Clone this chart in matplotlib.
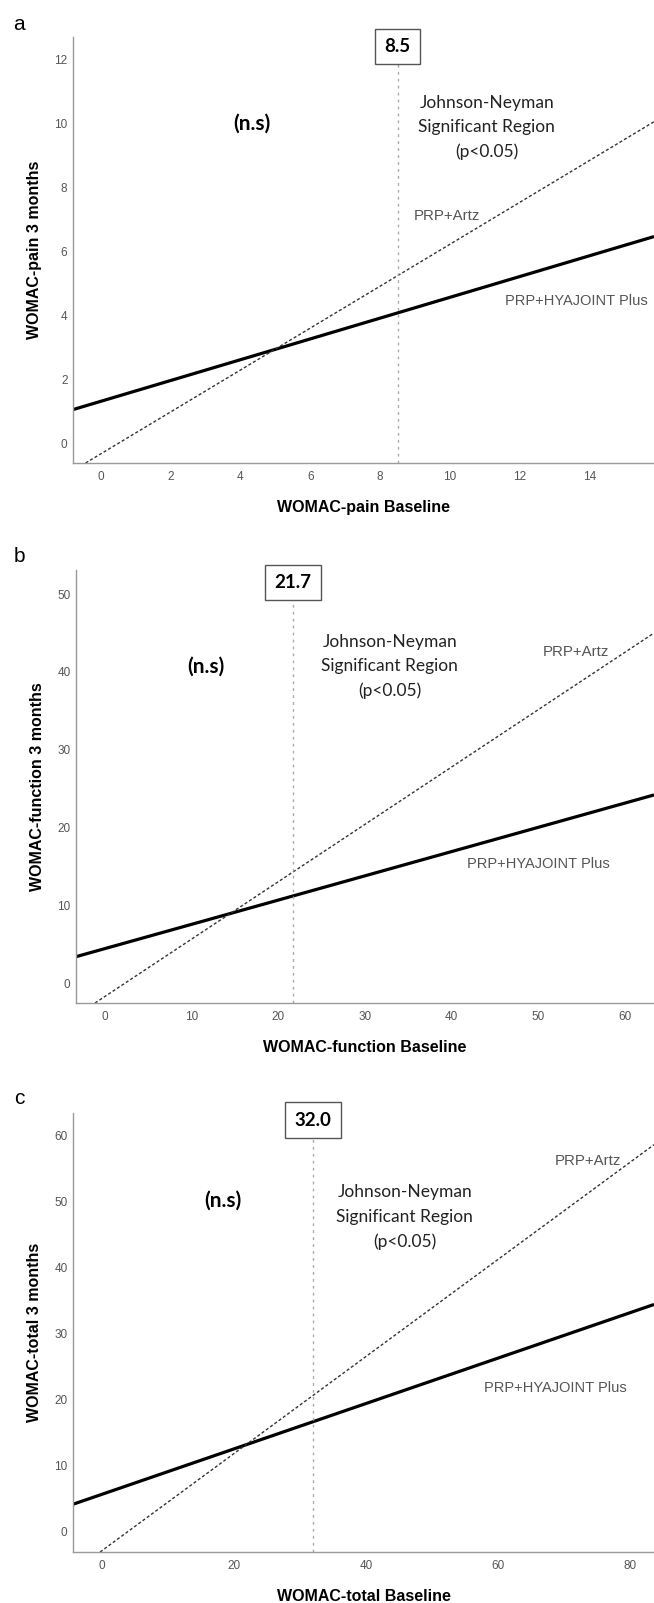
import matplotlib
matplotlib.use("Agg")
import matplotlib.pyplot as plt

# panel data (line end points at the axis edges)
panel_letters = ["a", "b", "c"]
x_labels = ["WOMAC-pain Baseline", "WOMAC-function Baseline", "WOMAC-total Baseline"]
y_labels = ["WOMAC-pain 3 months", "WOMAC-function 3 months", "WOMAC-total 3 months"]

x_limits = [(-0.8, 15.85), (-3.36, 63.4), (-4.3, 83.6)]
y_limits = [(-0.62, 12.7), (-2.53, 53.1), (-3.09, 63.4)]
x_ticks = [[0, 2, 4, 6, 8, 10, 12, 14], [0, 10, 20, 30, 40, 50, 60], [0, 20, 40, 60, 80]]
y_ticks = [[0, 2, 4, 6, 8, 10, 12], [0, 10, 20, 30, 40, 50], [0, 10, 20, 30, 40, 50, 60]]

hyajoint_x = [[-0.8, 15.85], [-3.36, 63.4], [-4.3, 83.6]]
hyajoint_y = [[1.05, 6.46], [3.42, 24.2], [4.14, 34.4]]
artz_x = [[-0.44, 15.85], [-1.16, 63.4], [-0.2, 83.6]]
artz_y = [[-0.62, 10.05], [-2.53, 45.0], [-3.09, 58.6]]

jn_points = [8.5, 21.7, 32.0]
jn_labels = ["8.5", "21.7", "32.0"]

# text anchors in data units
box_y = [12.4, 51.5, 62.3]
ns_pos = [(4.33, 10.0), (11.6, 40.7), (18.4, 50.1)]
jn_text_pos = [(11.06, 9.87), (32.9, 40.7), (45.9, 47.6)]
artz_label_pos = [(8.97, 7.1), (50.5, 42.6), (68.6, 56.2)]
hya_label_pos = [(11.57, 4.44), (41.8, 15.3), (57.9, 21.7)]

W, H = 654, 1603
fig = plt.figure(figsize=(W / 100, H / 100), dpi=100)

# axes boxes in pixels: left, top, right, bottom
boxes = [(73, 37, 654, 463), (76, 570, 654, 1003), (73, 1113, 654, 1552)]
letter_y = [25, 557, 1098]

tick_font = ["Liberation Sans", "DejaVu Sans"]
label_font = ["Liberation Sans", "DejaVu Sans"]
note_font = ["Lato", "DejaVu Sans"]

for i in range(3):
    l, t, r, b = boxes[i]
    ax = fig.add_axes([l / W, (H - b) / H, (r - l) / W, (b - t) / H])

    ax.plot(hyajoint_x[i], hyajoint_y[i], color="black", lw=2.3, solid_capstyle="butt")
    ax.plot(artz_x[i], artz_y[i], color="#333333", lw=1.0, linestyle=(0, (2.2, 1.6)))
    ax.axvline(jn_points[i], color="#aaaaaa", lw=1.0, linestyle=(0, (2, 3)))

    ax.set_xlim(*x_limits[i])
    ax.set_ylim(*y_limits[i])
    ax.set_xticks(x_ticks[i])
    ax.set_yticks(y_ticks[i])
    ax.tick_params(length=0, labelsize=8.5, labelcolor="#555555")
    ax.tick_params(axis="x", pad=6)
    ax.tick_params(axis="y", pad=4)
    for lab in ax.get_xticklabels() + ax.get_yticklabels():
        lab.set_family(tick_font)

    for side in ["top", "right"]:
        ax.spines[side].set_visible(False)
    for side in ["left", "bottom"]:
        ax.spines[side].set_color("#999999")
        ax.spines[side].set_linewidth(1.0)

    ax.set_xlabel(x_labels[i], fontsize=11.5, fontweight="bold", family=label_font, labelpad=12)
    ax.set_ylabel(y_labels[i], fontsize=11.5, fontweight="bold", family=label_font, labelpad=9)

    # Johnson-Neyman point box
    ax.text(jn_points[i], box_y[i], jn_labels[i], ha="center", va="center",
            fontsize=13.5, fontweight="bold", family=note_font, clip_on=False,
            bbox=dict(boxstyle="square,pad=0.5", fc="white", ec="#555555", lw=1.0))

    ax.text(*ns_pos[i], "(n.s)", ha="center", va="center", fontsize=15,
            fontweight="bold", family=note_font)
    ax.text(*jn_text_pos[i], "Johnson-Neyman\nSignificant Region\n(p<0.05)",
            ha="center", va="center", fontsize=12.5, family=note_font,
            linespacing=1.65, color="#222222")

    ax.text(*artz_label_pos[i], "PRP+Artz", ha="left", va="center", fontsize=10.8,
            color="#555555", family=label_font)
    ax.text(*hya_label_pos[i], "PRP+HYAJOINT Plus", ha="left", va="center",
            fontsize=10.5, color="#555555", family=label_font)

    fig.text(19 / W, 1 - letter_y[i] / H, panel_letters[i], ha="center", va="center",
             fontsize=15, family=label_font)

fig.savefig("out.png", dpi=100)
